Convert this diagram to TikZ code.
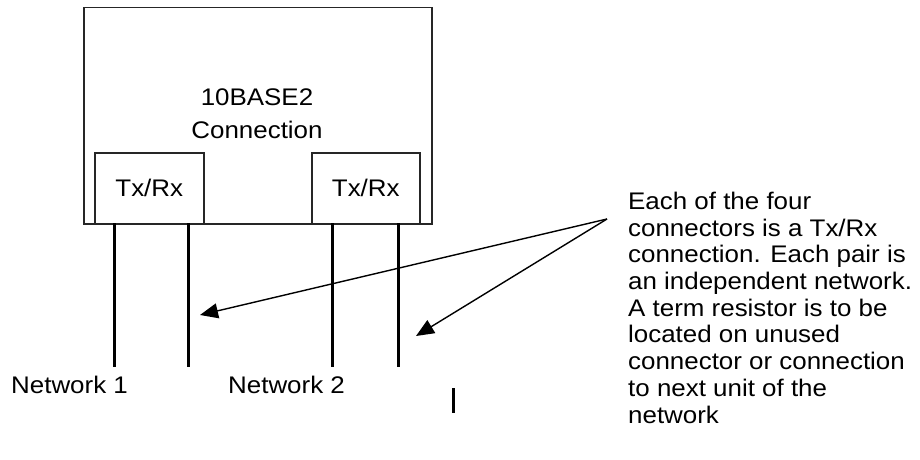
\documentclass[tikz,border=0pt]{standalone}
\usepackage{fontspec}
\setmainfont{Liberation Sans}[FakeStretch=1.08]
\usetikzlibrary{arrows.meta}
\begin{document}
\begin{tikzpicture}[x=1pt,y=-1pt,
  box/.style={draw=black!85,line width=1.5pt,inner sep=0pt},
  wire/.style={line width=3pt},
  pointer/.style={line width=1.4pt,-{Triangle[length=18pt,width=15pt]}},
  lbl/.style={inner sep=0pt,font=\fontsize{24}{33}\selectfont},
  note/.style={inner sep=0pt,align=left,font=\fontsize{24}{26.7}\selectfont}]
\useasboundingbox[fill=white] (0,0) rectangle (920,460);
\node[box,minimum width=348pt,minimum height=216pt,anchor=north west] (unit) at (83,7) {};
\node[lbl,align=center,anchor=base] (title) at (257,138) {10BASE2\\Connection};
\node[box,lbl,minimum width=109pt,minimum height=71pt,anchor=north west] (txl) at (94,152) {Tx/Rx};
\node[box,lbl,minimum width=108pt,minimum height=71pt,anchor=north west] (txr) at (311,152) {Tx/Rx};
\coordinate (w1a) at (114,223); \coordinate (w1b) at (114,367);
\coordinate (w2a) at (188,223); \coordinate (w2b) at (188,367);
\coordinate (w3a) at (332,223); \coordinate (w3b) at (332,367);
\coordinate (w4a) at (398,223); \coordinate (w4b) at (398,367);
\draw[wire] (w1a) -- (w1b);
\draw[wire] (w2a) -- (w2b);
\draw[wire] (w3a) -- (w3b);
\draw[wire] (w4a) -- (w4b);
\node[lbl,anchor=base west] (net1) at (11,393) {Network 1};
\node[lbl,anchor=base west] (net2) at (228,393) {Network 2};
\coordinate (bara) at (453,388); \coordinate (barb) at (453,413);
\draw[line width=3pt] (bara) -- (barb);
\node[note,anchor=base west] (expl) at (628,423) {Each of the four\\connectors is a Tx/Rx\\connection. Each pair is\\an independent network.\\A term resistor is to be\\located on unused\\connector or connection\\to next unit of the\\network};
\coordinate (src) at (607,219);
\coordinate (tip1) at (200,315);
\coordinate (tip2) at (416,336);
\draw[pointer] (src) -- (tip1);
\draw[pointer] (src) -- (tip2);
\end{tikzpicture}
\end{document}
